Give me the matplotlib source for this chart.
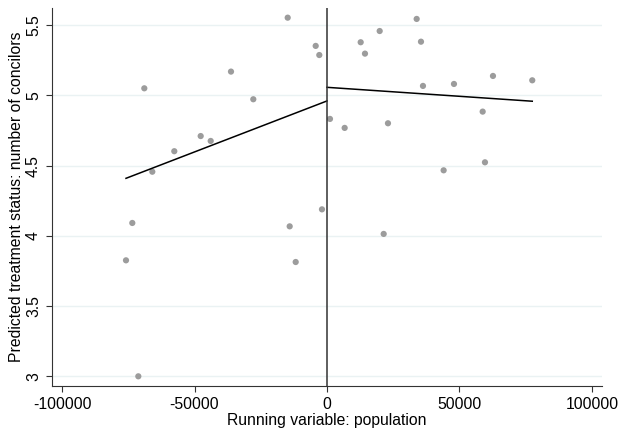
import matplotlib
matplotlib.use("Agg")
import matplotlib.pyplot as plt

# pontos (bins) à esquerda e à direita do corte
x_esq = [-75860, -73480, -71210, -68950, -65930, -57630, -47670, -43890,
         -36230, -27810, -14830, -14080, -11810, -4260, -2900, -1890]
y_esq = [3.826, 4.092, 3.000, 5.051, 4.457, 4.603, 4.711, 4.676,
         5.170, 4.973, 5.554, 4.068, 3.814, 5.353, 5.288, 4.189]

x_dir = [1130, 6670, 12720, 14340, 19890, 21400, 23020, 33850,
         35480, 36230, 44030, 47930, 58760, 59630, 62650, 77480]
y_dir = [4.833, 4.769, 5.379, 5.298, 5.459, 4.014, 4.802, 5.545,
         5.383, 5.068, 4.467, 5.082, 4.885, 4.524, 5.139, 5.108]

# retas ajustadas (extremos)
reta_esq_x = [-75860, 0]
reta_esq_y = [4.410, 4.961]
reta_dir_x = [0, 77480]
reta_dir_y = [5.058, 4.959]

plt.rcParams["font.family"] = ["Liberation Sans", "DejaVu Sans"]

fig = plt.figure(figsize=(6.18, 4.34), dpi=100)
ax = fig.add_axes([0.0841, 0.1106, 0.890, 0.8710])

for v in [3, 3.5, 4, 4.5, 5, 5.5]:
    ax.axhline(v, color="#eaf2f3", linewidth=1.0, zorder=0)

ax.scatter(x_esq, y_esq, s=20, color="#9c9c9c", edgecolors="none", zorder=2)
ax.scatter(x_dir, y_dir, s=20, color="#9c9c9c", edgecolors="none", zorder=2)
ax.plot(reta_esq_x, reta_esq_y, color="black", linewidth=1.1, zorder=3)
ax.plot(reta_dir_x, reta_dir_y, color="black", linewidth=1.1, zorder=3)
ax.axvline(0, color="#333333", linewidth=1.1, zorder=3)

ax.set_xlim(-103800, 103800)
ax.set_ylim(2.931, 5.623)
ax.set_xticks([-100000, -50000, 0, 50000, 100000])
ax.set_xticklabels(["-100000", "-50000", "0", "50000", "100000"])
ax.set_yticks([3, 3.5, 4, 4.5, 5, 5.5])
ax.set_yticklabels(["3", "3.5", "4", "4.5", "5", "5.5"], rotation=90, va="center")

ax.spines["top"].set_visible(False)
ax.spines["right"].set_visible(False)
ax.spines["left"].set_color("#333333")
ax.spines["bottom"].set_color("#333333")
ax.tick_params(axis="both", labelsize=11.3, length=4, color="#333333", pad=4)

ax.set_xlabel("Running variable: population", fontsize=11.3, labelpad=1)
ax.set_ylabel("Predicted treatment status: number of concilors", fontsize=11.3, labelpad=1)

fig.savefig("out.png", dpi=100)
